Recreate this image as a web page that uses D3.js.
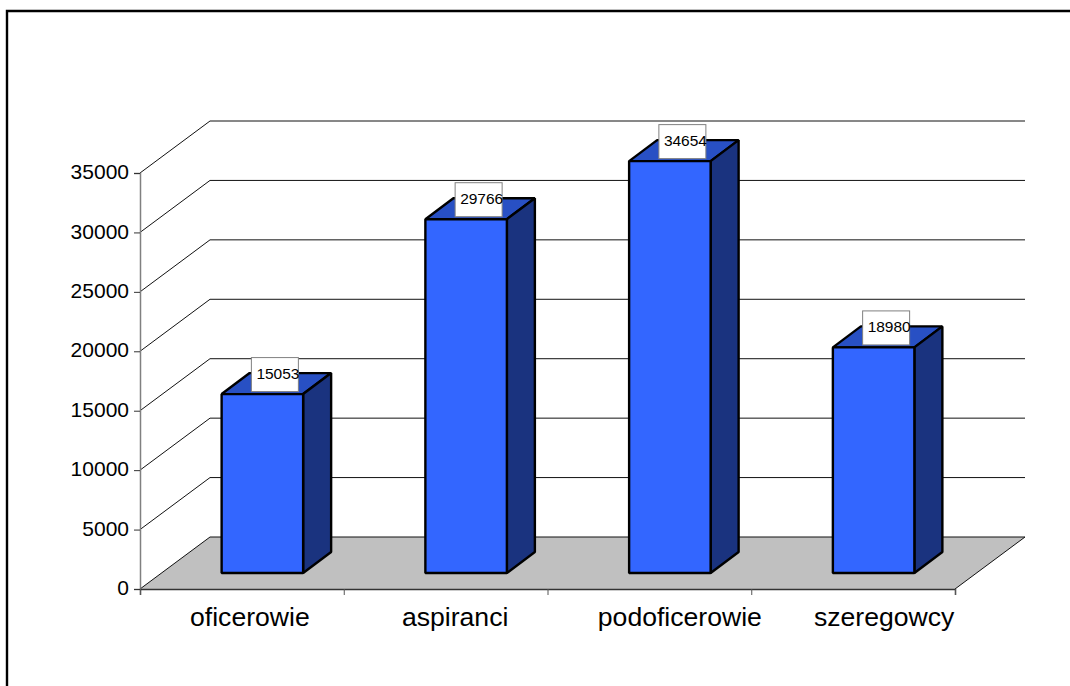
<!DOCTYPE html>
<html><head><meta charset="utf-8">
<script src="https://cdn.jsdelivr.net/npm/d3@7"></script>
<style>html,body{margin:0;padding:0;background:#fff}svg{display:block}text{font-family:"Liberation Sans",Arial,sans-serif;fill:#000}</style>
</head><body><svg id="c" width="1070" height="686"></svg>
<script>
const categories = ["oficerowie","aspiranci","podoficerowie","szeregowcy"];
const values = [15053,29766,34654,18980];
const yTicks = [0,5000,10000,15000,20000,25000,30000,35000];

const svg = d3.select("#c");
const x0=140,x1=955,yBase=589,yTop=173;
const wallDx=70,wallDy=-52;
const barDx=28,barDy=-21;
const barOffsetX=20.5,barOffsetY=-16;
const labelShift=[8,9.5,30.5,31];
const x=d3.scaleBand().domain(categories).range([x0,x1]).paddingInner(0.6).paddingOuter(0.3);
const y=d3.scaleLinear().domain([0,35000]).range([yBase,yTop]);

svg.append("path").attr("d",`M7,686V11H1070`).attr("fill","none").attr("stroke","#000").attr("stroke-width",2.4);

// wall gridlines
const grid=svg.append("g");
yTicks.slice(1).forEach(t=>{
  grid.append("path").attr("d",`M${x0},${y(t)}L${x0+wallDx},${y(t)+wallDy}H${x1+wallDx}`)
    .attr("fill","none").attr("stroke","#111").attr("stroke-width",1);
});
// floor
svg.append("path").attr("d",`M${x0},${yBase}L${x0+wallDx},${yBase+wallDy}H${x1+wallDx}L${x1},${yBase}Z`)
  .attr("fill","#c0c0c0").attr("stroke","none");
svg.append("path").attr("d",`M${x0},${yBase}L${x0+wallDx},${yBase+wallDy}H${x1+wallDx}L${x1},${yBase}`)
  .attr("fill","none").attr("stroke","#111").attr("stroke-width",1);

// axes
const yAxis=svg.append("g").attr("transform",`translate(${x0},0)`).call(d3.axisLeft(y).tickValues(yTicks).tickSize(6).tickPadding(5).tickFormat(d3.format("d")));
yAxis.selectAll("text").attr("font-size",21).attr("font-family",null).attr("dy","0.27em");
yAxis.select(".domain").attr("stroke","#808080").attr("stroke-width",1.5);
yAxis.selectAll(".tick line").attr("stroke","#333");

const boundaries=d3.range(categories.length+1).map(i=>x0+i*x.step());
const xLin=d3.scaleLinear().domain([x0,x1]).range([x0,x1]);
const xAxis=svg.append("g").attr("transform",`translate(0,${yBase})`).call(d3.axisBottom(xLin).tickValues(boundaries).tickSize(6).tickFormat(""));
xAxis.select(".domain").attr("stroke","#333").attr("stroke-width",1.5);
xAxis.selectAll(".tick line").attr("stroke","#555");

svg.append("g").selectAll("text").data(categories).join("text")
  .attr("x",(d,i)=>x(d)+x.bandwidth()/2+labelShift[i])
  .attr("y",yBase+37).attr("text-anchor","middle").attr("font-size",26.6).text(d=>d);

// bars
const bars=svg.append("g").selectAll("g").data(values).join("g");
bars.each(function(v,i){
  const g=d3.select(this);
  const l=x(categories[i])+barOffsetX, r=l+x.bandwidth();
  const b=yBase+barOffsetY, t=y(v)+barOffsetY;
  const st={stroke:"#000","stroke-width":2.4,"stroke-linejoin":"bevel"};
  const face=(d,f)=>{const p=g.append("path").attr("d",d).attr("fill",f);Object.entries(st).forEach(([k,a])=>p.attr(k,a));};
  face(`M${l},${t}L${l+barDx},${t+barDy}H${r+barDx}L${r},${t}Z`,"#2850c4");
  face(`M${r},${t}L${r+barDx},${t+barDy}V${b+barDy}L${r},${b}Z`,"#1a337f");
  face(`M${l},${t}H${r}V${b}H${l}Z`,"#3366ff");
});
// data labels
const labels=svg.append("g").selectAll("g").data(values).join("g")
  .attr("transform",(v,i)=>`translate(${x(categories[i])+barOffsetX+x.bandwidth()/2+12.5},${y(v)+barOffsetY-2.5})`);
labels.append("rect").attr("x",-23.5).attr("y",-34).attr("width",47).attr("height",34)
  .attr("fill","#fff").attr("stroke","#808080").attr("stroke-width",1);
labels.append("text").attr("x",-18.5).attr("y",-12.5).attr("font-size",15.5).text(d=>d);
</script></body></html>
